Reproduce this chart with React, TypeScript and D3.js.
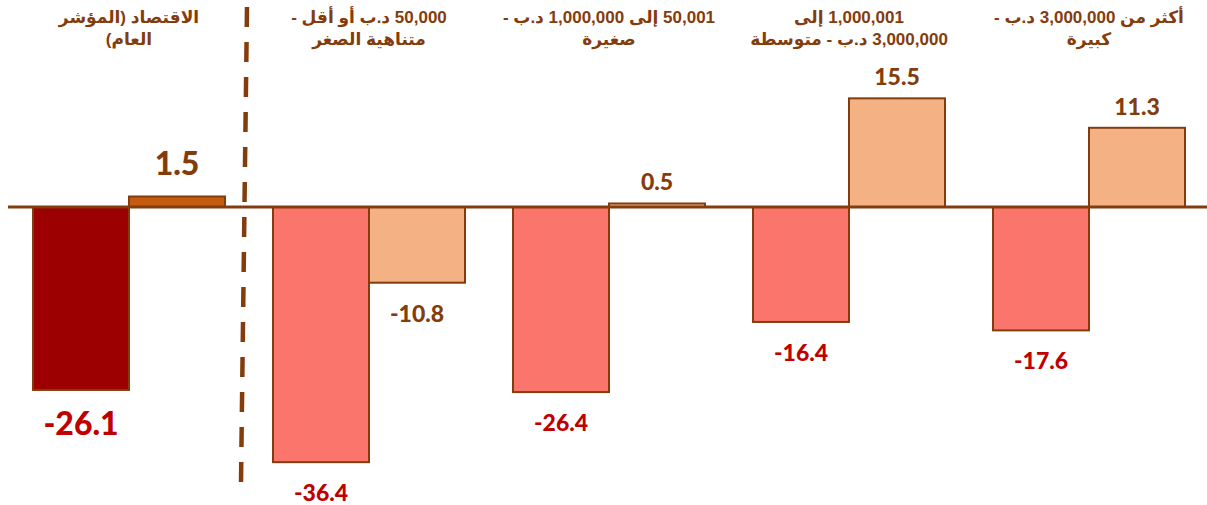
import React from "react";
import * as d3 from "d3";

const categories = [
  ["الاقتصاد (المؤشر", "العام)"],
  ["50,000 د.ب أو أقل -", "متناهية الصغر"],
  ["50,001 إلى 1,000,000 د.ب -", "صغيرة"],
  ["1,000,001 إلى", "3,000,000 د.ب - متوسطة"],
  ["أكثر من 3,000,000 د.ب -", "كبيرة"],
];
const seriesA = [-26.1, -36.4, -26.4, -16.4, -17.6];
const seriesB = [1.5, -10.8, 0.5, 15.5, 11.3];

const W = 1207;
const H = 505;
const BROWN = "#843C0C";
const RED = "#C00000";

export default function App() {
  const x = d3.scaleBand<number>().domain(d3.range(categories.length)).range([9, 1209]);
  const inner = d3.scaleBand<string>().domain(["a", "b"]).range([24, 216]);
  const y = d3.scaleLinear().domain([-38, 28]).range([207 + 38 * 7.01, 207 - 28 * 7.01]);
  const y0 = y(0);

  const bars: any[] = [];
  const labels: any[] = [];
  categories.forEach((_, i) => {
    const vals = [seriesA[i], seriesB[i]];
    ["a", "b"].forEach((k, j) => {
      const v = vals[j];
      const bx = (x(i) as number) + (inner(k) as number);
      const bw = inner.bandwidth();
      const top = Math.min(y(v), y0);
      const h = Math.abs(y(v) - y0);
      let fill: string;
      if (i === 0) fill = j === 0 ? "#9C0000" : "#C55A11";
      else fill = j === 0 ? "#FA756B" : "#F4B183";
      bars.push(
        <rect key={`b${i}${k}`} x={bx} y={top} width={bw} height={h} fill={fill} stroke={BROWN} strokeWidth={2} />
      );
      const big = i === 0;
      const fs = big ? 32 : 23;
      const color = j === 0 ? RED : BROWN;
      const ly = v < 0 ? y(v) + (big ? 45 : 39) : y(v) - (big ? 21 : 13);
      labels.push(
        <text
          key={`l${i}${k}`}
          x={bx + bw / 2}
          y={ly}
          textAnchor="middle"
          fontFamily="Lato, 'Open Sans', sans-serif"
          fontWeight={900}
          fontSize={fs}
          fill={color}
        >
          {v.toFixed(1)}
        </text>
      );
    });
  });

  return (
    <svg width={W} height={H} style={{ position: "absolute", left: 0, top: 0, background: "#fff" }}>
      {bars}
      <line x1={8} x2={1207} y1={y0} y2={y0} stroke={BROWN} strokeWidth={3} />
      <line x1={247} y1={7} x2={241} y2={482} stroke={BROWN} strokeWidth={4.5} strokeDasharray="20 15" />
      {labels}
      {categories.map((lines, i) => (
        <text
          key={`c${i}`}
          textAnchor="middle"
          direction="rtl"
          fontFamily="'Liberation Sans', 'DejaVu Sans', sans-serif"
          fontWeight={700}
          fontSize={17}
          fill={BROWN}
        >
          {lines.map((t, li) => (
            <tspan key={li} x={(x(i) as number) + x.bandwidth() / 2} y={23 + li * 22}>
              {t}
            </tspan>
          ))}
        </text>
      ))}
    </svg>
  );
}
